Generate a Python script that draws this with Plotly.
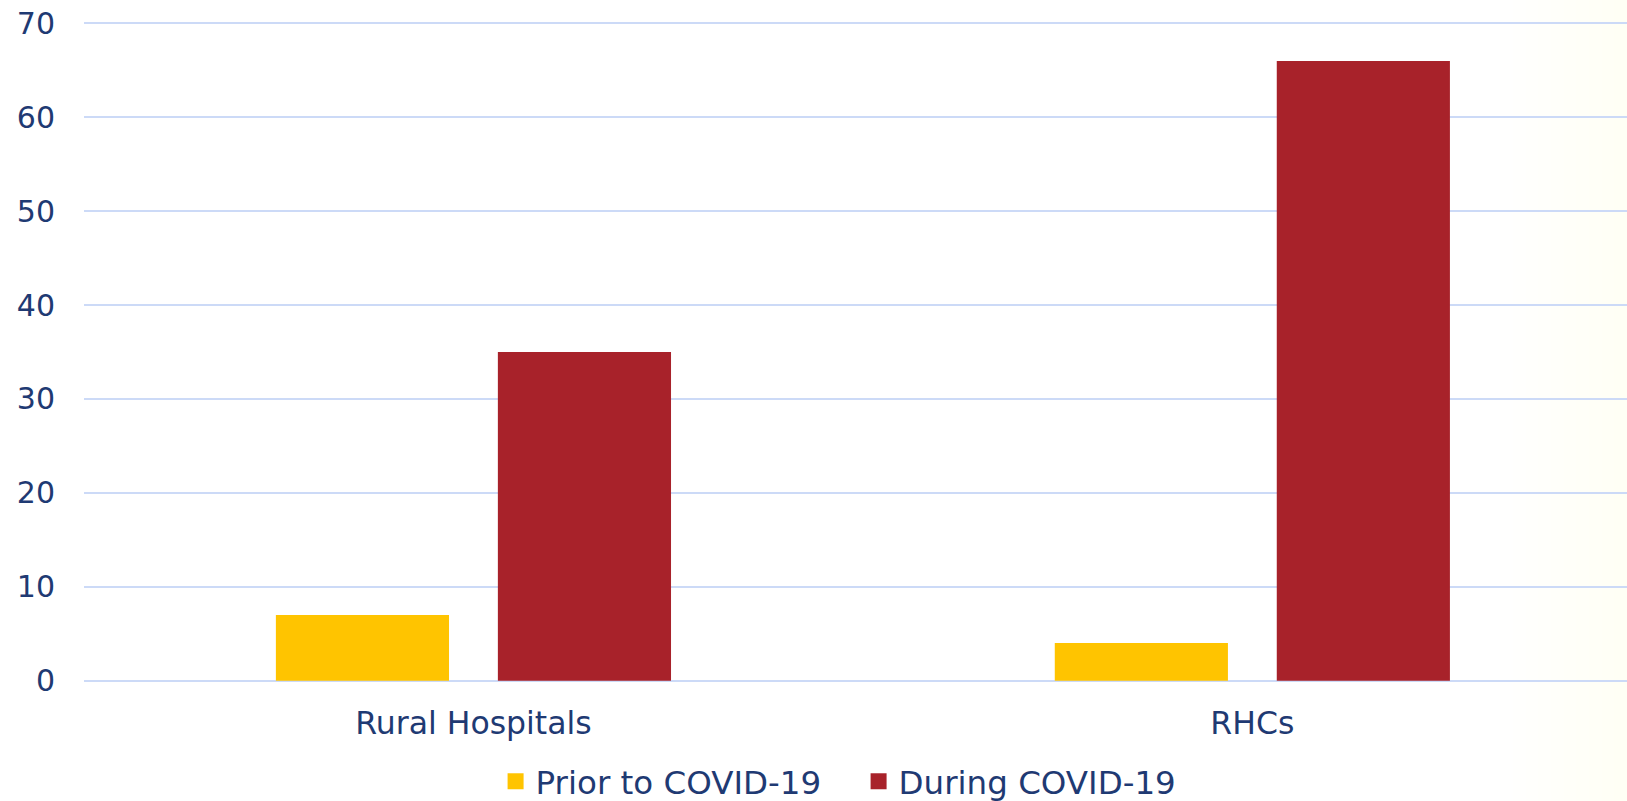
import plotly.graph_objects as go

categories = ["Rural Hospitals", "RHCs"]
prior_values = [7, 4]
during_values = [35, 66]
series_names = ["Prior to COVID-19", "During COVID-19"]
series_colors = ["#FFC400", "#A8222A"]
y_ticks = [0, 10, 20, 30, 40, 50, 60, 70]

TEXT = "#1F3A73"
FONT = "DejaVu Sans"
x_pos = list(range(len(categories)))

fig = go.Figure()
for name, vals, col in zip(series_names, [prior_values, during_values], series_colors):
    fig.add_trace(go.Bar(x=x_pos, y=vals, name=name, showlegend=False,
                         marker=dict(color=col, line=dict(width=0))))
# legend entries with larger square swatches
for name, col in zip(series_names, series_colors):
    fig.add_trace(go.Scatter(x=[None], y=[None], mode="markers", name=name,
                             marker=dict(symbol="square", size=19, color=col)))

# subtle beige gradient at the right edge (stacked translucent bands)
n_bands = 10
for i in range(n_bands):
    x0 = 0.918 + i * 0.0082
    fig.add_shape(type="rect", xref="paper", yref="paper", x0=x0, x1=1.02,
                  y0=-0.2, y1=1.05, fillcolor="rgba(230,210,150,0.006)",
                  line=dict(width=0), layer="below")

fig.update_layout(
    width=1627, height=801,
    margin=dict(l=84, r=0, t=21, b=118, autoexpand=False),
    paper_bgcolor="white", plot_bgcolor="rgba(0,0,0,0)",
    barmode="group", bargap=0.43, bargroupgap=0.22,
    font=dict(family=FONT, color=TEXT, size=31),
    showlegend=True,
    legend=dict(orientation="h", x=0.502, xanchor="center", y=-0.149, yanchor="middle",
                font=dict(family=FONT, size=32.5, color=TEXT), entrywidth=318,
                bgcolor="rgba(0,0,0,0)", tracegroupgap=0),
)
fig.update_xaxes(range=[-0.5, 1.481], tickvals=x_pos, ticktext=categories,
                 showgrid=False, zeroline=False, showline=False, ticks="", automargin=False,
                 ticklabelstandoff=18, tickfont=dict(size=31.5, color=TEXT, family=FONT))
fig.update_yaxes(range=[-0.25, 70.25], tickvals=y_ticks, showgrid=True, gridcolor="#CCDAF7",
                 gridwidth=1.5, zeroline=False, showline=False, ticks="", automargin=False,
                 ticklabelstandoff=28, tickfont=dict(size=30, color=TEXT, family=FONT))

fig.write_html("out.html", config={"displayModeBar": False},
               post_script="document.body.style.margin='0';")
